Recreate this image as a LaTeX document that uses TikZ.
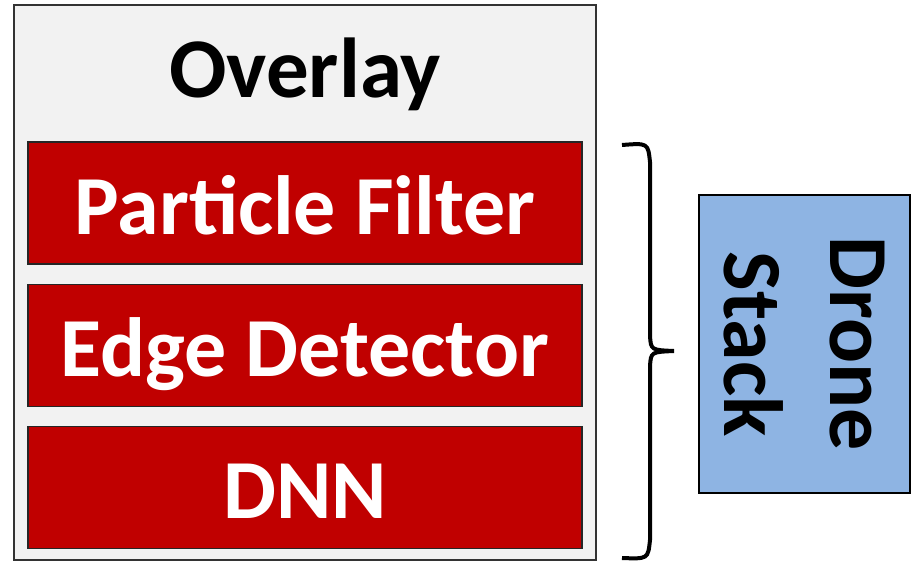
\documentclass[tikz,border=0pt]{standalone}
\usepackage{fontspec}
\setmainfont{Carlito}
\usetikzlibrary{positioning}
\definecolor{layerred}{HTML}{C00000}
\definecolor{dronebg}{HTML}{8EB4E3}
\definecolor{overlaybg}{HTML}{F2F2F2}

\begin{document}
\begin{tikzpicture}[x=1pt, y=-1pt]
    % Styles
    \tikzstyle{frame} = [rectangle, draw=black!80, line width=1.2pt, fill=overlaybg, minimum width=582pt, minimum height=555pt, inner sep=0pt]
    \tikzstyle{layer} = [rectangle, draw=black!85, line width=1.2pt, fill=layerred, text=white, font=\fontsize{84}{96}\selectfont\bfseries, minimum width=554pt, minimum height=122pt, inner sep=0pt, text height=62pt, text depth=0pt]
    \tikzstyle{drone} = [rectangle, draw=black, line width=1.2pt, fill=dronebg, rotate=-90, align=center, font=\fontsize{84}{106}\selectfont\bfseries, minimum width=298pt, minimum height=211pt, inner sep=0pt]
    \tikzstyle{brace} = [draw, line width=4pt]

    \useasboundingbox (0,0) rectangle (914,563);

    % Nodes
    \node [frame] (overlay) at (305,282.5) {};
    \node [anchor=base, font=\fontsize{85}{100}\selectfont\bfseries] (title) at (305,97) {Overlay};
    \node [layer] (pf) at (305,203) {Particle Filter};
    \node [layer, below=19pt of pf] (ed) {Edge Detector};
    \node [layer, below=19pt of ed] (dnn) {DNN};
    \node [drone] (stack) at (804.5,344) {Drone\\Stack};

    % Brace
    \coordinate (btop) at (622,145);
    \coordinate (btip) at (674,351);
    \coordinate (bbot) at (622,558);
    \path [brace] (btop) .. controls (648,143) .. (650,162) -- (650,336)
        .. controls (651,350) .. (btip)
        .. controls (651,352) .. (650,366) -- (650,540)
        .. controls (648,559) .. (bbot);

\end{tikzpicture}
\end{document}
